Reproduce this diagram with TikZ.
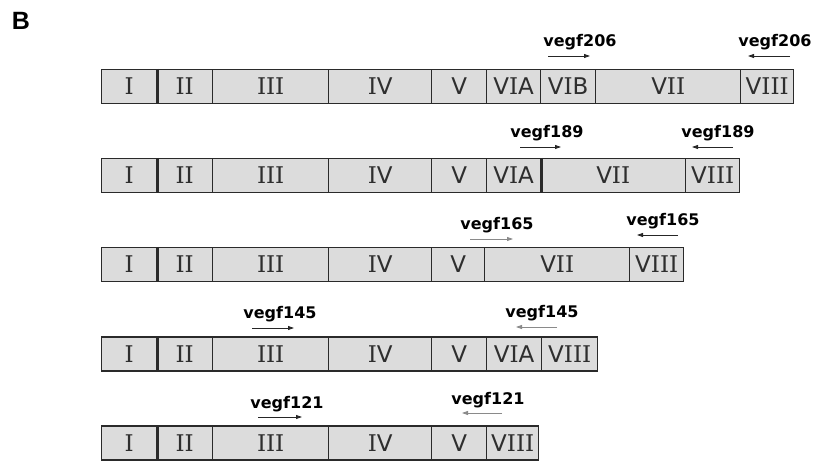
\documentclass[tikz,border=0pt]{standalone}
\usepackage{fontspec}
\setmainfont{DejaVu Sans}
\newfontfamily\serI{DejaVu Serif}
\newfontfamily\bfont{Liberation Sans}
\usetikzlibrary{arrows.meta}
\definecolor{segfill}{HTML}{DCDCDC}
\definecolor{segline}{HTML}{2A2A2A}
\definecolor{primgray}{HTML}{8A8A8A}
\newcommand\Ix{{\serI I}}
\newcommand\seg[5]{\node[segbox, minimum width={(#3-#2)*1pt}, anchor=west] (#1) at (#2,#4) {#5};}
\tikzset{
  segbox/.style={draw=segline, fill=segfill, line width=1.4pt, minimum height=34pt,
    inner sep=0pt, text height=16.5pt, text depth=0pt, font=\fontsize{23}{23}\selectfont, text=black!82},
  primer/.style={font=\bfseries\fontsize{16}{16}\selectfont, anchor=base, inner sep=0pt},
  prarrow/.style={line width=0.8pt, draw=black!85, -{Triangle[length=6pt,width=4pt]}},
  prarrowg/.style={prarrow, draw=primgray},
  thickdiv/.style={draw=segline, line width=2.6pt}
}
\begin{document}
\begin{tikzpicture}[x=1pt,y=-1pt]
\useasboundingbox (0,0) rectangle (817,462);
\node[font=\bfont\bfseries\fontsize{25}{25}\selectfont, inner sep=0pt] (B) at (21,21) {B};

% Row 1 (vegf206)
\seg{a1}{101}{156}{86.5}{\Ix}
\seg{a2}{156}{212}{86.5}{\Ix\Ix}
\seg{a3}{212}{328}{86.5}{\Ix\Ix\Ix}
\seg{a4}{328}{431}{86.5}{\Ix V}
\seg{a5}{431}{486}{86.5}{V}
\seg{a6}{486}{540}{86.5}{V\Ix A}
\seg{a7}{540}{595}{86.5}{V\Ix B}
\seg{a8}{595}{740}{86.5}{V\Ix\Ix}
\seg{a9}{740}{793}{86.5}{V\Ix\Ix\Ix}
\draw[thickdiv] (a1.north east) -- (a1.south east);

% Row 2 (vegf189)
\seg{b1}{101}{156}{175.5}{\Ix}
\seg{b2}{156}{212}{175.5}{\Ix\Ix}
\seg{b3}{212}{328}{175.5}{\Ix\Ix\Ix}
\seg{b4}{328}{431}{175.5}{\Ix V}
\seg{b5}{431}{486}{175.5}{V}
\seg{b6}{486}{540}{175.5}{V\Ix A}
\seg{b7}{540}{685}{175.5}{V\Ix\Ix}
\seg{b8}{685}{739}{175.5}{V\Ix\Ix\Ix}
\draw[thickdiv] (b1.north east) -- (b1.south east);
\draw[thickdiv] (b6.north east) -- (b6.south east);

% Row 3 (vegf165)
\seg{c1}{101}{156}{264.5}{\Ix}
\seg{c2}{156}{212}{264.5}{\Ix\Ix}
\seg{c3}{212}{328}{264.5}{\Ix\Ix\Ix}
\seg{c4}{328}{431}{264.5}{\Ix V}
\seg{c5}{431}{484}{264.5}{V}
\seg{c6}{484}{629}{264.5}{V\Ix\Ix}
\seg{c7}{629}{683}{264.5}{V\Ix\Ix\Ix}
\draw[thickdiv] (c1.north east) -- (c1.south east);

% Row 4 (vegf145)
\seg{d1}{101}{156}{354}{\Ix}
\seg{d2}{156}{212}{354}{\Ix\Ix}
\seg{d3}{212}{328}{354}{\Ix\Ix\Ix}
\seg{d4}{328}{431}{354}{\Ix V}
\seg{d5}{431}{486}{354}{V}
\seg{d6}{486}{541}{354}{V\Ix A}
\seg{d7}{541}{597}{354}{V\Ix\Ix\Ix}
\draw[thickdiv] (d1.north east) -- (d1.south east);

% Row 5 (vegf121)
\seg{e1}{101}{156}{443}{\Ix}
\seg{e2}{156}{212}{443}{\Ix\Ix}
\seg{e3}{212}{328}{443}{\Ix\Ix\Ix}
\seg{e4}{328}{431}{443}{\Ix V}
\seg{e5}{431}{486}{443}{V}
\seg{e6}{486}{538}{443}{V\Ix\Ix\Ix}
\draw[thickdiv] (e1.north east) -- (e1.south east);

% Primer labels
\node[primer] (p1f) at (580,47) {vegf206};
\node[primer] (p1r) at (775,47) {vegf206};
\node[primer] (p2f) at (547,138) {vegf189};
\node[primer] (p2r) at (718,138) {vegf189};
\node[primer] (p3f) at (497,230) {vegf165};
\node[primer] (p3r) at (663,226) {vegf165};
\node[primer] (p4f) at (280,319) {vegf145};
\node[primer] (p4r) at (542,318) {vegf145};
\node[primer] (p5f) at (287,408) {vegf121};
\node[primer] (p5r) at (488,404) {vegf121};

% Primer arrows
\coordinate (q1a) at (548,56);  \coordinate (q1b) at (590,56);
\coordinate (q1c) at (790,56);  \coordinate (q1d) at (748,56);
\coordinate (q2a) at (520,147); \coordinate (q2b) at (561,147);
\coordinate (q2c) at (733,147); \coordinate (q2d) at (692,147);
\coordinate (q3a) at (470,239); \coordinate (q3b) at (513,239);
\coordinate (q3c) at (678,235); \coordinate (q3d) at (637,235);
\coordinate (q4a) at (252,328); \coordinate (q4b) at (294,328);
\coordinate (q4c) at (557,327); \coordinate (q4d) at (516,327);
\coordinate (q5a) at (258,417); \coordinate (q5b) at (302,417);
\coordinate (q5c) at (502,413); \coordinate (q5d) at (462,413);
\draw[prarrow] (q1a) -- (q1b);
\draw[prarrow] (q1c) -- (q1d);
\draw[prarrow] (q2a) -- (q2b);
\draw[prarrow] (q2c) -- (q2d);
\draw[prarrowg] (q3a) -- (q3b);
\draw[prarrow] (q3c) -- (q3d);
\draw[prarrow] (q4a) -- (q4b);
\draw[prarrowg] (q4c) -- (q4d);
\draw[prarrow] (q5a) -- (q5b);
\draw[prarrowg] (q5c) -- (q5d);
\end{tikzpicture}
\end{document}
